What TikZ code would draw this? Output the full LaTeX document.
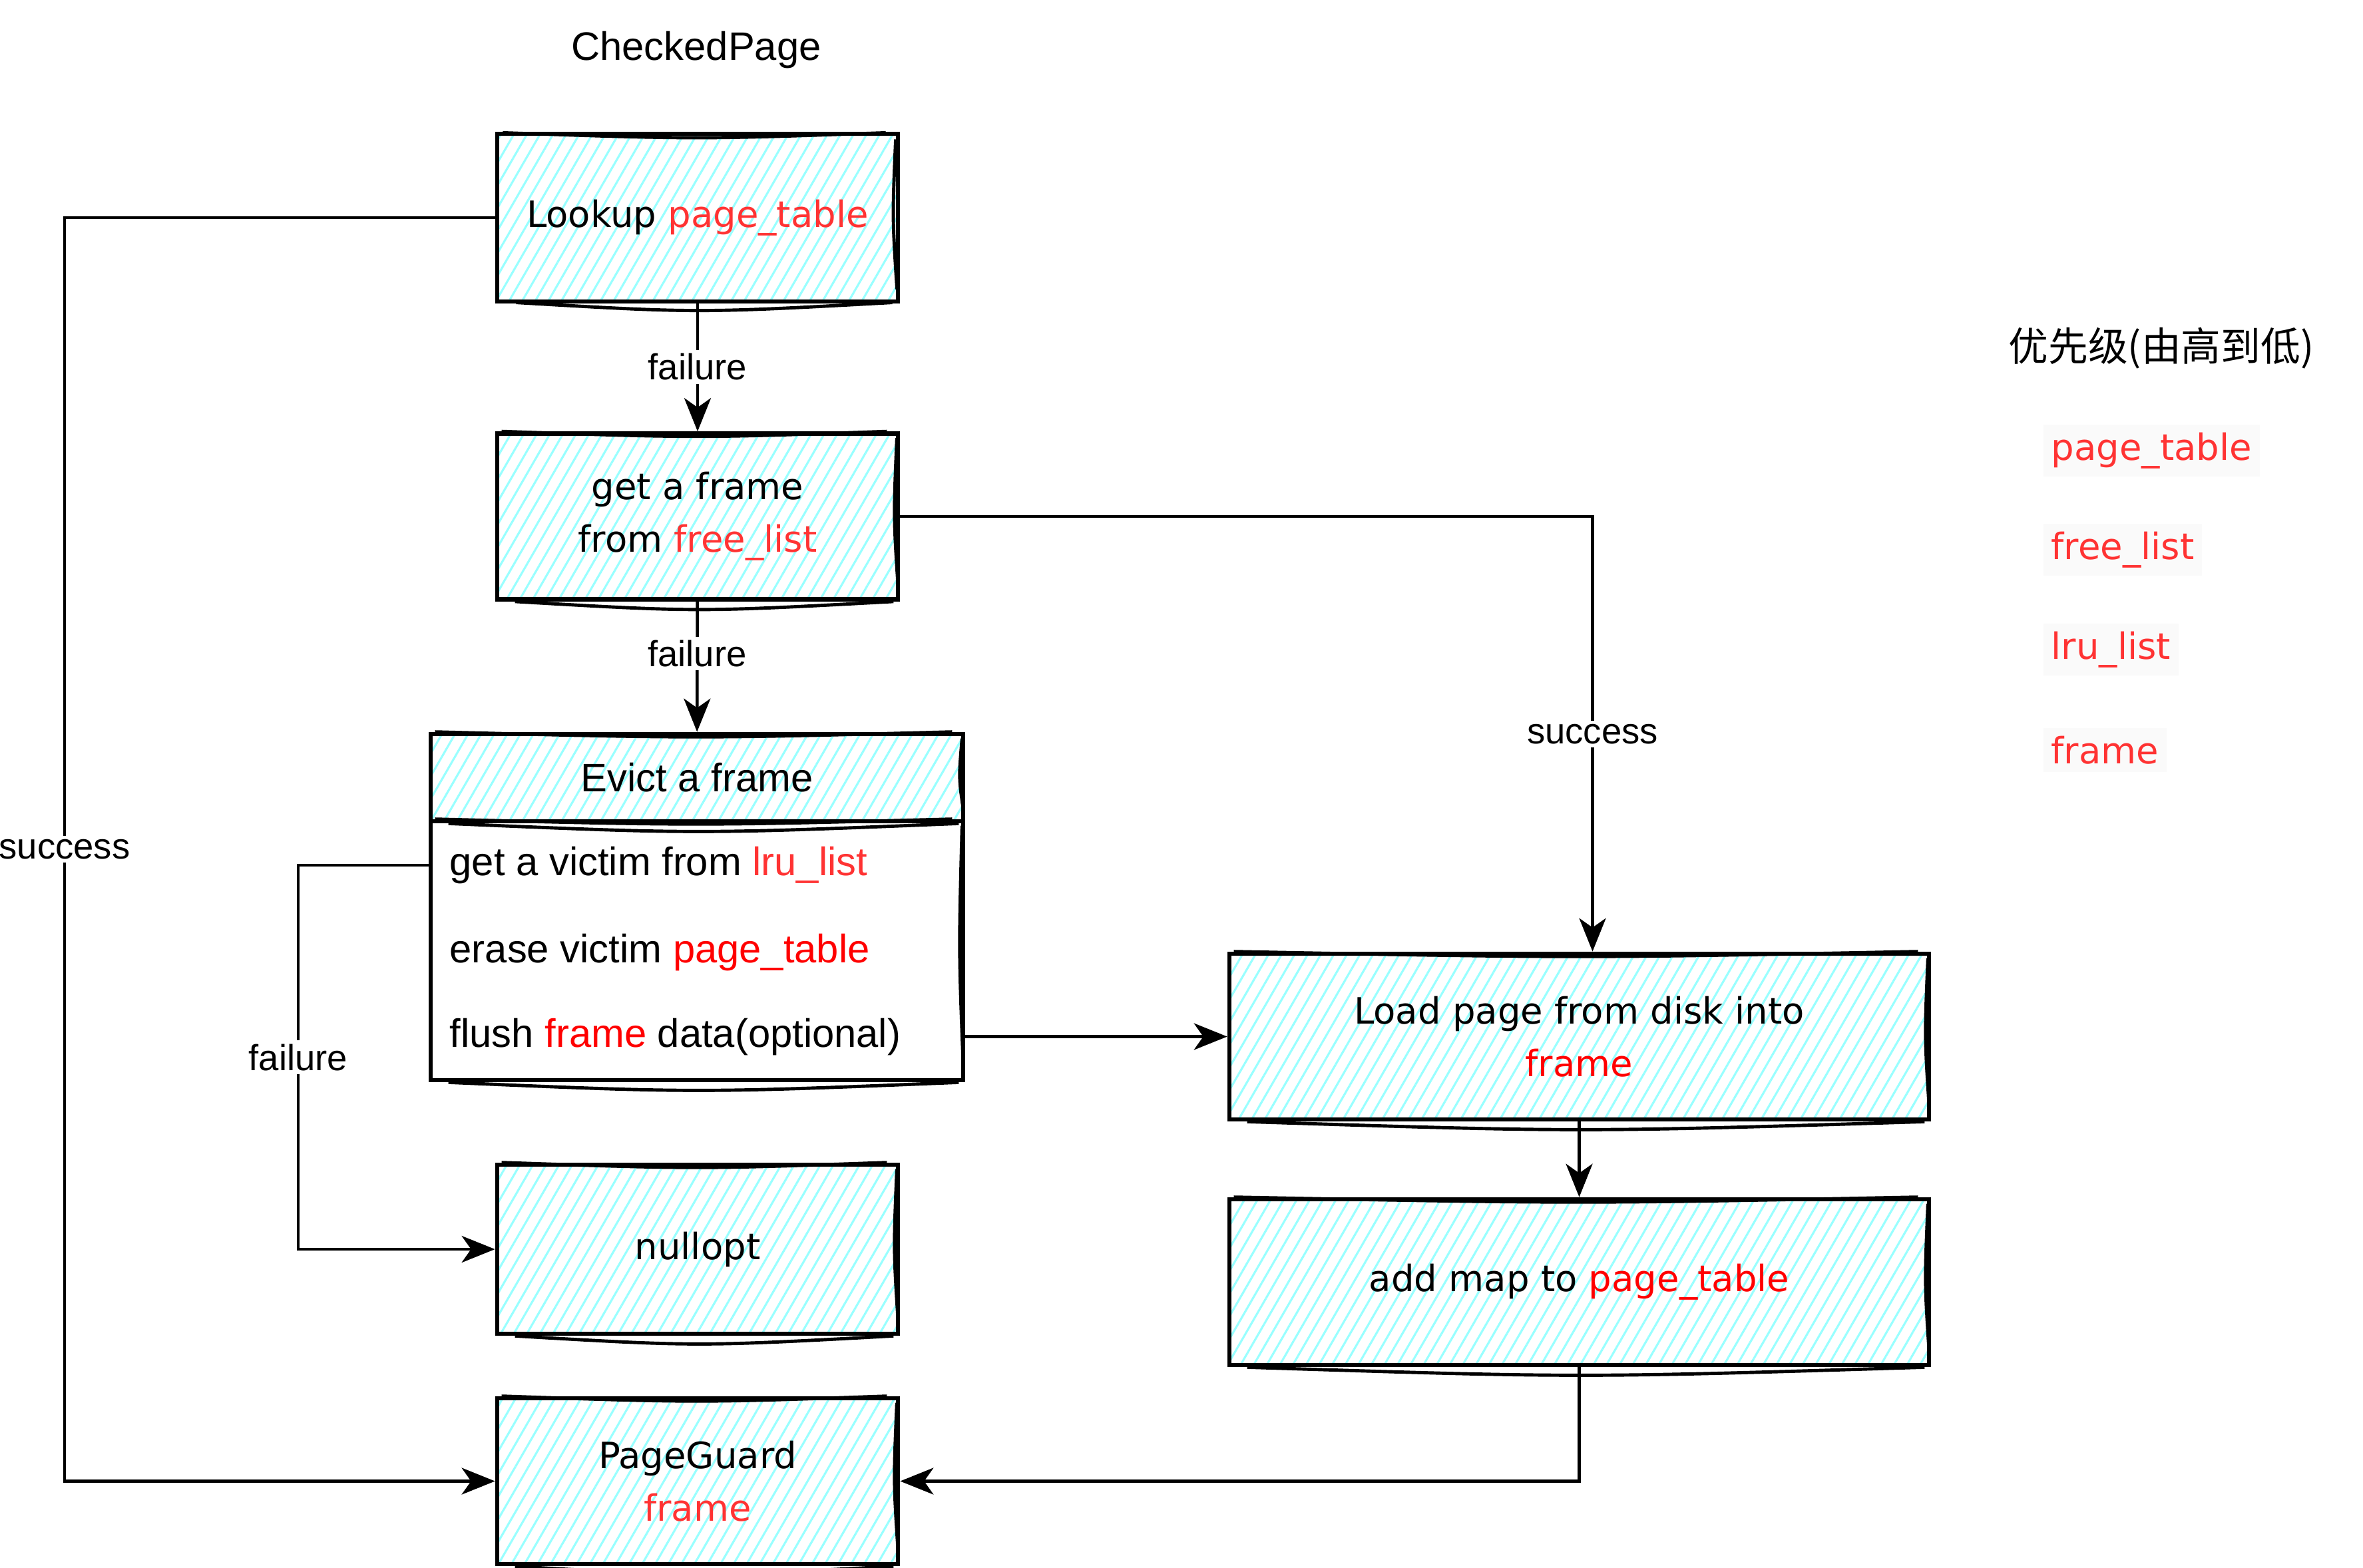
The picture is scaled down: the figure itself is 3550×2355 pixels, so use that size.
\documentclass[tikz,border=0pt]{standalone}
\usepackage{fontspec}
\setmainfont{Liberation Sans}
\newfontfamily\hand{DejaVu Sans}
\newfontfamily\cjk{Noto Sans CJK SC}
\usetikzlibrary{patterns.meta,arrows.meta}
\definecolor{ra}{HTML}{FF3333}
\definecolor{rb}{HTML}{FF0000}
\definecolor{hatch}{HTML}{99FFFF}
\definecolor{legbg}{HTML}{FAFAFA}
\tikzset{
  hbox/.style={draw=black, line width=1.9pt, rectangle, inner sep=0pt, align=center,
    font=\hand\fontsize{15.5}{22.5}\selectfont,
    pattern={Lines[angle=60,distance=1.7mm,line width=0.9pt]}, pattern color=hatch},
  wbox/.style={draw=black, line width=1.9pt, rectangle, inner sep=0pt, fill=white},
  skl/.style={line width=1.4pt},
  arr/.style={line width=1.3pt, -{Stealth[length=5mm,width=4mm,inset=1.4mm]}},
  lbl/.style={fill=white, inner sep=1.5pt, font=\fontsize{15.5}{18}\selectfont},
  row/.style={anchor=west, inner sep=0pt, font=\fontsize{17}{20}\selectfont},
  leg/.style={anchor=west, inner sep=1.2mm, fill=legbg, text=ra, font=\hand\fontsize{15.5}{18}\selectfont},
}
\newcommand{\skbox}[1]{%
  \draw[skl] ([xshift=3mm]#1.south west) .. controls ([yshift=-1.6mm]#1.south) .. ([xshift=-1mm]#1.south east);
  \draw[skl] ([xshift=1mm]#1.north west) .. controls ([yshift=-1.0mm]#1.north) .. ([xshift=-2mm]#1.north east);
  \draw[skl] ([xshift=-0.5mm,yshift=-1mm]#1.north east) .. controls ([xshift=-1mm]#1.east) .. ([xshift=-0.3mm,yshift=2mm]#1.south east);
}
\begin{document}
\begin{tikzpicture}[x=0.1mm, y=-0.1mm]
\useasboundingbox (0,0) rectangle (3550,2355);

% title
\node[font=\fontsize{17}{20}\selectfont] (title) at (1046,75) {CheckedPage};

% boxes
\node[hbox, minimum width=60.2mm, minimum height=25.2mm] (lookup) at (1048,327)
  {Lookup \textcolor{ra}{page\_table}};
\node[hbox, minimum width=60.2mm, minimum height=24.9mm] (getframe) at (1048,776)
  {get a frame\\from \textcolor{ra}{free\_list}};

\node[hbox, minimum width=80mm, minimum height=13.1mm, font=\fontsize{17}{20}\selectfont] (evhead) at (1047,1168.5)
  {Evict a frame};
\node[wbox, minimum width=80mm, minimum height=38.9mm] (evbody) at (1047,1428.5) {};
\node[row] (r1) at (675,1300) {get a victim from \textcolor{ra}{lru\_list}};
\node[row] (r2) at (675,1431) {erase victim \textcolor{rb}{page\_table}};
\node[row] (r3) at (675,1558) {flush \textcolor{rb}{frame} data(optional)};

\node[hbox, minimum width=60.2mm, minimum height=25.4mm] (nullopt) at (1048,1877) {nullopt};
\node[hbox, minimum width=60.2mm, minimum height=24.9mm] (pageguard) at (1048,2225.5)
  {PageGuard\\\textcolor{ra}{frame}};
\node[hbox, minimum width=105.1mm, minimum height=24.9mm] (load) at (2372.5,1557.5)
  {Load page from disk into\\\textcolor{rb}{frame}};
\node[hbox, minimum width=105.1mm, minimum height=24.9mm] (addmap) at (2372.5,1926.5)
  {add map to \textcolor{rb}{page\_table}};

\skbox{lookup}
\skbox{getframe}
\skbox{evhead}
\skbox{evbody}
\skbox{nullopt}
\skbox{pageguard}
\skbox{load}
\skbox{addmap}

% legend
\node[font=\cjk\fontsize{17}{20}\selectfont] (legtitle) at (3247,523) {优先级(由高到低)};
\node[leg] (l1) at (3069,677) {page\_table};
\node[leg] (l2) at (3069,826) {free\_list};
\node[leg] (l3) at (3069,976) {lru\_list};
\node[leg] (l4) at (3069,1127) {frame};

% connector corner coordinates
\coordinate (lx) at (97,0);
\coordinate (fx) at (448,0);

% connectors
\draw[arr] (lookup) -- node[lbl, midway] {failure} (getframe);
\draw[arr] (getframe) -- node[lbl, pos=0.4] {failure} (evhead);
\draw[arr] (lookup.west) -- (lookup.west -| lx) |- node[lbl, pos=0.25] {success} (pageguard.west);
\draw[arr] (getframe.east) -| node[lbl, pos=0.75] {success} ([xshift=2mm]load.north);
\draw[arr] (evbody.west |- r1) -- (fx |- r1) |- node[lbl, pos=0.25] {failure} (nullopt.west);
\draw[arr] (evbody.east |- load.west) -- (load.west);
\draw[arr] (load) -- (addmap);
\draw[arr] (addmap.south) |- (pageguard.east);
\end{tikzpicture}
\end{document}
